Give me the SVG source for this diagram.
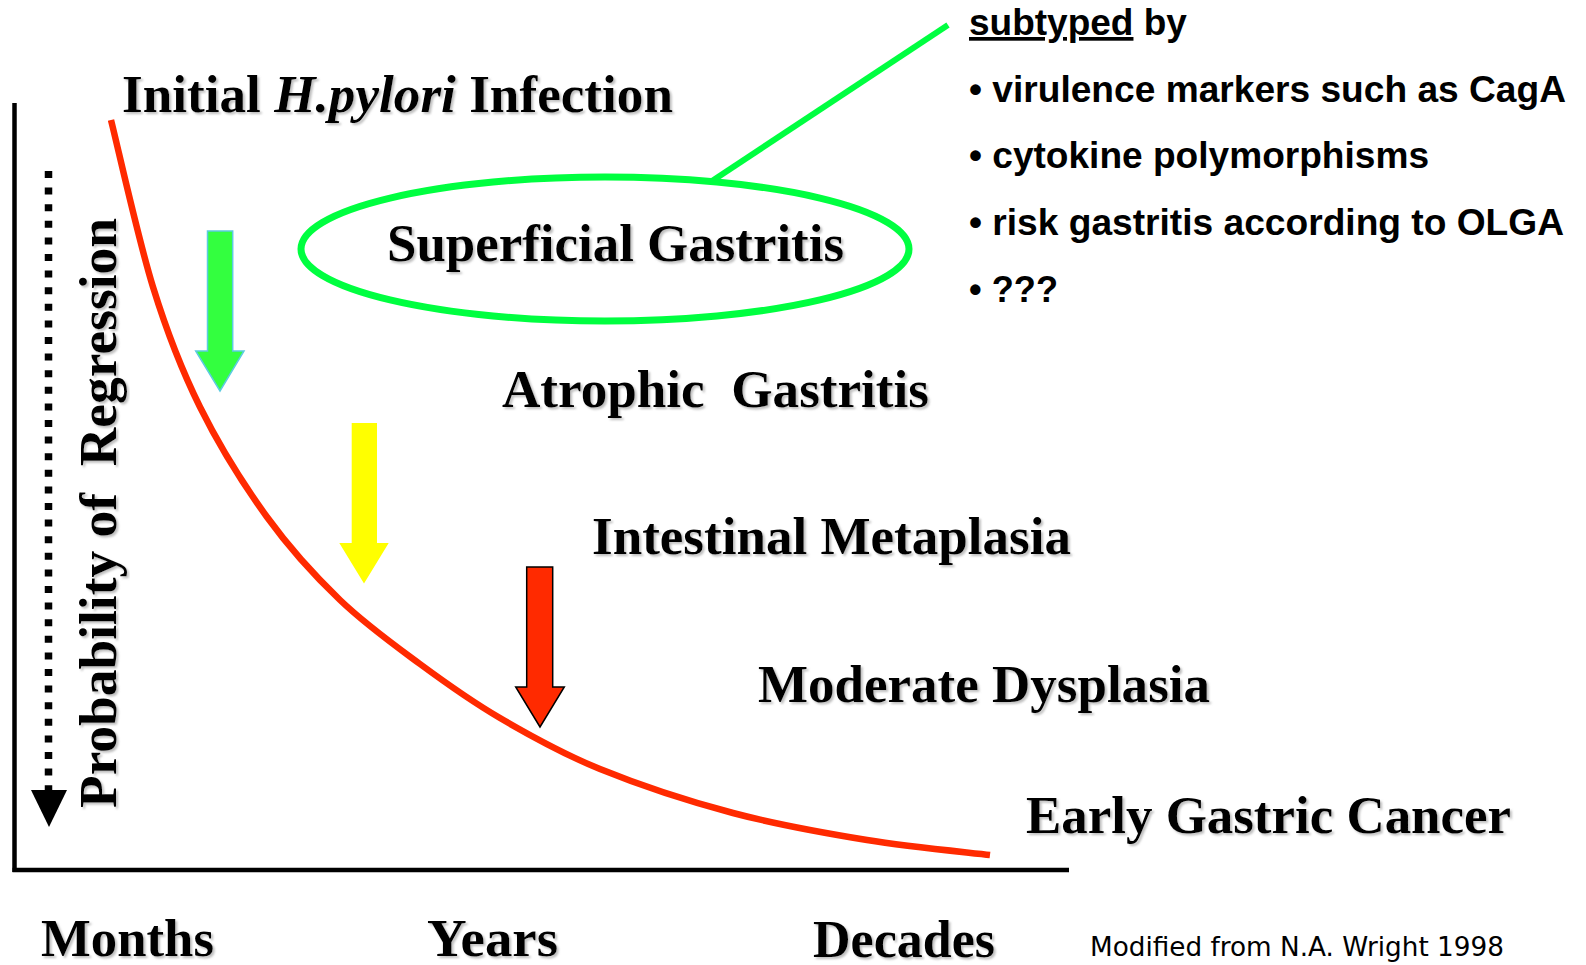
<svg xmlns="http://www.w3.org/2000/svg" width="1586" height="965" viewBox="0 0 1586 965">
  <defs>
    <filter id="shadow" x="-5%" y="-20%" width="110%" height="140%">
      <feDropShadow dx="2" dy="2" stdDeviation="0.8" flood-color="#888888" flood-opacity="0.55"/>
    </filter>
  </defs>
  <style>
    .serif { font-family: "Liberation Serif", "Times New Roman", serif; font-weight: bold; font-size: 53px; fill: #000; white-space: pre; }
    .sans { font-family: "Liberation Sans", Arial, sans-serif; font-weight: bold; font-size: 37px; fill: #000; white-space: pre; }
    .note { font-family: "DejaVu Sans", "Open Sans", sans-serif; font-size: 26px; fill: #000; }
    .axis { stroke: #000; stroke-width: 4.5; fill: none; }
    .curve { stroke: #ff2a00; stroke-width: 6.5; fill: none; }
    .green { stroke: #00ff40; fill: none; }
  </style>

  <g id="axes">
    <line class="axis" x1="14.5" y1="103" x2="14.5" y2="872"/>
    <line class="axis" x1="12.5" y1="870" x2="1069" y2="870"/>
  </g>

  <g id="regression-axis">
    <line x1="48.5" y1="171" x2="48.5" y2="792" stroke="#000" stroke-width="7.5" stroke-dasharray="7 9.6"/>
    <polygon points="31,790 67,790 49,827" fill="#000"/>
    <g filter="url(#shadow)">
      <text class="serif" transform="translate(116,808) rotate(-90)" x="0" y="0" textLength="590" lengthAdjust="spacingAndGlyphs">Probability of  Regression</text>
    </g>
  </g>

  <g id="connectors">
    <path id="risk-curve" class="curve" d="M111,120 C118,147.8 138.2,239.2 153,287 C167.8,334.8 181,368.7 200,407 C219,445.3 243.7,484.8 267,517 C290.3,549.2 314.5,575.5 340,600 C365.5,624.5 393.3,644.3 420,664 C446.7,683.7 470,700.5 500,718 C530,735.5 561.2,753.2 600,769 C638.8,784.8 688.5,801.2 733,813 C777.5,824.8 824.2,833 867,840 C909.8,847 969.5,852.5 990,855"/>
    <line id="callout-line" class="green" stroke-width="6" x1="712" y1="181" x2="948" y2="25"/>
  </g>

  <g id="arrow-green">
    <polygon points="207.5,231 232.7,231 232.7,351 244,351 220,391 195.7,351 207.5,351" fill="#33ff3f" stroke="#5ccbe0" stroke-width="1.5"/>
  </g>
  <g id="arrow-yellow">
    <polygon points="351.7,423 377,423 377,543 388.7,543 364,583.5 339.3,543 351.7,543" fill="#ffff00"/>
  </g>
  <g id="arrow-red">
    <polygon points="526.7,567 552.7,567 552.7,687 564.3,687 540,727 515.7,687 526.7,687" fill="#ff2a00" stroke="#000" stroke-width="1.5"/>
  </g>

  <g id="node-initial" filter="url(#shadow)">
    <text class="serif" x="122" y="112" textLength="551" lengthAdjust="spacingAndGlyphs">Initial <tspan font-style="italic">H.pylori</tspan> Infection</text>
  </g>

  <g id="node-superficial">
    <ellipse class="green" stroke-width="7" cx="605" cy="249" rx="304" ry="72"/>
    <text class="serif" filter="url(#shadow)" x="387" y="261" textLength="457" lengthAdjust="spacingAndGlyphs">Superficial Gastritis</text>
  </g>

  <g id="node-atrophic" filter="url(#shadow)">
    <text class="serif" x="502" y="407" textLength="427" lengthAdjust="spacingAndGlyphs">Atrophic  Gastritis</text>
  </g>

  <g id="node-intestinal" filter="url(#shadow)">
    <text class="serif" x="592" y="554" textLength="479" lengthAdjust="spacingAndGlyphs">Intestinal Metaplasia</text>
  </g>

  <g id="node-dysplasia" filter="url(#shadow)">
    <text class="serif" x="758" y="702" textLength="452" lengthAdjust="spacingAndGlyphs">Moderate Dysplasia</text>
  </g>

  <g id="node-cancer" filter="url(#shadow)">
    <text class="serif" x="1026" y="833" textLength="485" lengthAdjust="spacingAndGlyphs">Early Gastric Cancer</text>
  </g>

  <g id="time-labels" filter="url(#shadow)">
    <text class="serif" x="41" y="956" textLength="173" lengthAdjust="spacingAndGlyphs">Months</text>
    <text class="serif" x="427" y="956" textLength="131" lengthAdjust="spacingAndGlyphs">Years</text>
    <text class="serif" x="813" y="957" textLength="182" lengthAdjust="spacingAndGlyphs">Decades</text>
  </g>

  <g id="subtype-list">
    <text class="sans" x="969" y="35"><tspan text-decoration="underline">subtyped</tspan> by</text>
    <text class="sans" x="969" y="102" textLength="597" lengthAdjust="spacingAndGlyphs">• virulence markers such as CagA</text>
    <text class="sans" x="969" y="168" textLength="460" lengthAdjust="spacingAndGlyphs">• cytokine polymorphisms</text>
    <text class="sans" x="969" y="235" textLength="595" lengthAdjust="spacingAndGlyphs">• risk gastritis according to OLGA</text>
    <text class="sans" x="969" y="302" textLength="89" lengthAdjust="spacingAndGlyphs">• ???</text>
  </g>

  <g id="source-note">
    <text class="note" x="1090" y="956" textLength="414" lengthAdjust="spacingAndGlyphs">Modified from N.A. Wright 1998</text>
  </g>
</svg>
